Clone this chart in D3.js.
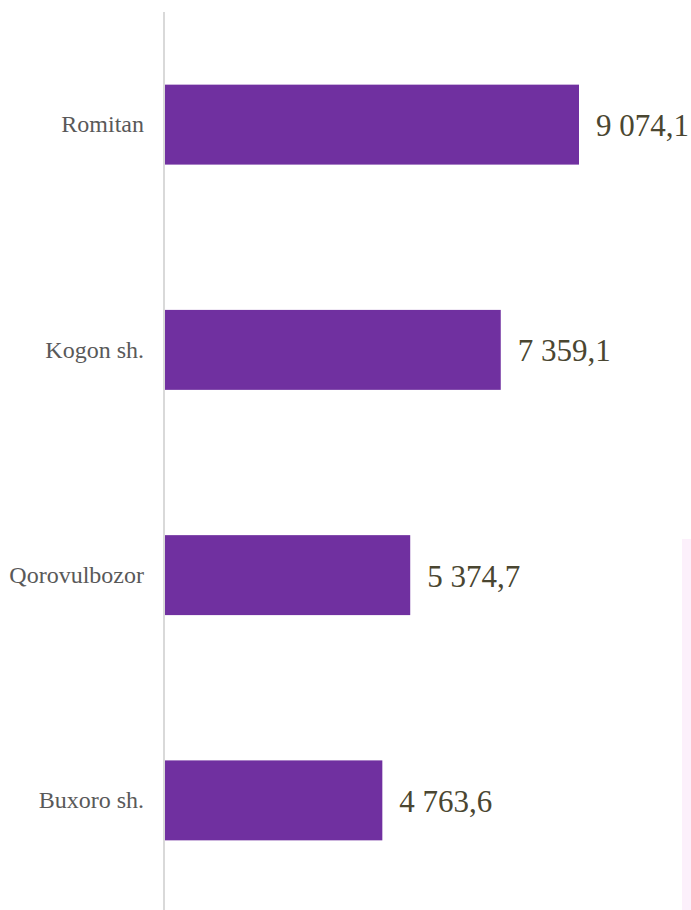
<!DOCTYPE html>
<html>
<head>
<meta charset="utf-8">
<script src="https://cdn.jsdelivr.net/npm/d3@7"></script>
<style>
  html, body { margin: 0; padding: 0; background: #fff; }
  svg { display: block; }
</style>
</head>
<body>
<div id="chart"></div>
<script>
const districts = ['Romitan', 'Kogon sh.', 'Qorovulbozor', 'Buxoro sh.']
const values    = [9074.1, 7359.1, 5374.7, 4763.6]

const W = 691, H = 910
const AXIS_X = 164
const FONT = '"Liberation Serif", "Times New Roman", serif'

const locale = d3.formatLocale({ decimal: ',', thousands: ' ', grouping: [3], currency: ['', ''] })
const fmt = locale.format(',.1f')

const svg = d3.select('#chart').append('svg')
  .attr('width', W).attr('height', H)

// faint strip on the right edge (part of a neighbouring element)
svg.append('rect')
  .attr('x', 682).attr('y', 539).attr('width', 9).attr('height', H - 539)
  .attr('fill', '#fcf0fb')

const x = d3.scaleLinear().domain([0, 9074.1]).range([AXIS_X + 1, 579])
const y = d3.scaleBand().domain(districts).range([12, 913])
  .paddingInner(0.645).paddingOuter(0.3225)

const rows = districts.map((d, i) => ({ name: d, value: values[i] }))

svg.append('g').selectAll('rect').data(rows).enter().append('rect')
  .attr('x', x(0))
  .attr('y', d => y(d.name))
  .attr('width', d => x(d.value) - x(0))
  .attr('height', y.bandwidth())
  .attr('fill', '#7030a0')

const axis = svg.append('g')
  .attr('transform', `translate(${AXIS_X},0)`)
  .call(d3.axisLeft(y).tickSize(0).tickPadding(20))
  .attr('font-family', FONT)
axis.select('.domain').attr('stroke', '#d9d9d9').attr('stroke-width', 2)
  .attr('d', `M0,12V${H}`)
axis.selectAll('text')
  .style('font-family', FONT).attr('font-size', '24px').attr('fill', '#595959')

svg.append('g').selectAll('text').data(rows).enter().append('text')
  .attr('x', d => x(d.value) + 17)
  .attr('y', d => y(d.name) + y.bandwidth() / 2)
  .attr('dy', '0.37em')
  .style('font-family', FONT).attr('font-size', '31px').attr('fill', '#4a4631')
  .text(d => fmt(d.value))
</script>
</body>
</html>
